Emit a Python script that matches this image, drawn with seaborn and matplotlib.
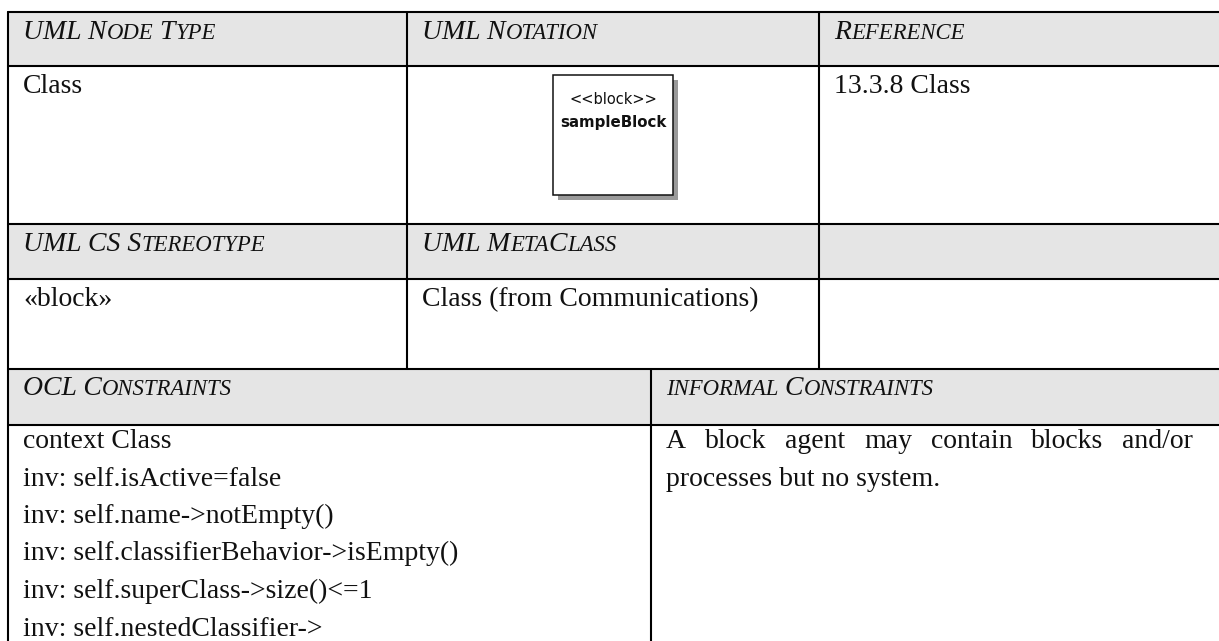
import matplotlib
matplotlib.use("Agg")
import matplotlib.pyplot as plt
import seaborn as sns
from matplotlib.patches import Rectangle
from matplotlib.font_manager import FontProperties

# table content (lowercase letters in headers are drawn as small caps)
header_row1 = ["UML Node Type", "UML Notation", "Reference"]
body_row1 = ["Class", "", "13.3.8 Class"]
header_row2 = ["UML CS Stereotype", "UML MetaClass", ""]
body_row2 = ["«block»", "Class (from Communications)", ""]
header_row3 = ["OCL Constraints", "informal Constraints"]
ocl_lines = [
    "context Class",
    "inv: self.isActive=false",
    "inv: self.name->notEmpty()",
    "inv: self.classifierBehavior->isEmpty()",
    "inv: self.superClass->size()<=1",
    "inv: self.nestedClassifier->",
]
informal_lines = ["A block agent may contain blocks and/or", "processes but no system."]
notation_stereotype = "<<block>>"
notation_name = "sampleBlock"

W, H = 1219, 641
X_LEFT, X_RIGHT = 8, 1219
COLS_TOP = [8, 407, 819]
COLS_BOTTOM = [8, 651]
ROW_LINES = [12, 66, 224, 279, 369, 425]
HEADER_ROWS = [(12, 66), (224, 279), (369, 425)]
PAD = 15
SERIF = "Liberation Serif"
BODY_SIZE = 20
HEAD_SIZE = 20
LINE_STEP = 37.5
INK = "#111111"

sns.set_theme(style="white")
plt.rcParams["font.family"] = [SERIF, "DejaVu Serif"]

fig = plt.figure(figsize=(12.19, 6.41), dpi=100)
ax = fig.add_axes([0, 0, 1, 1])
ax.set_xlim(0, W)
ax.set_ylim(H, 0)
ax.axis("off")
renderer = fig.canvas.get_renderer()


def text_width(s, prop):
    # measure with guard glyphs so leading/trailing spaces count
    w1, _, _ = renderer.get_text_width_height_descent("X" + s + "X", prop, ismath=False)
    w0, _, _ = renderer.get_text_width_height_descent("XX", prop, ismath=False)
    return w1 - w0


def small_caps(x, y, label, size, ratio=0.82):
    runs = []
    for ch in label:
        low = ch.islower()
        if runs and runs[-1][1] == low:
            runs[-1][0] += ch
        else:
            runs.append([ch, low])
    for s, low in runs:
        prop = FontProperties(family=SERIF, style="italic",
                              size=size * ratio if low else size)
        ax.text(x, y, s.upper(), fontproperties=prop, va="baseline", ha="left", color=INK)
        x += text_width(s.upper(), prop)


def justified(x0, x1, y, line, size):
    prop = FontProperties(family=SERIF, size=size)
    words = line.split()
    widths = [text_width(w, prop) for w in words]
    gap = (x1 - x0 - sum(widths)) / (len(words) - 1)
    x = x0
    for w, wd in zip(words, widths):
        ax.text(x, y, w, fontproperties=prop, va="baseline", ha="left", color=INK)
        x += wd + gap


# header shading
for top, bottom in HEADER_ROWS:
    ax.add_patch(Rectangle((X_LEFT, top), X_RIGHT - X_LEFT, bottom - top,
                           facecolor="#e5e5e5", edgecolor="none", zorder=0))

# grid lines
for y in ROW_LINES:
    ax.plot([X_LEFT, X_RIGHT], [y, y], color="black", lw=1.5, zorder=3)
ax.plot([COLS_TOP[0]] * 2, [ROW_LINES[0], H], color="black", lw=1.5, zorder=3)
for x in COLS_TOP[1:]:
    ax.plot([x, x], [ROW_LINES[0], ROW_LINES[4]], color="black", lw=1.5, zorder=3)
ax.plot([COLS_BOTTOM[1]] * 2, [ROW_LINES[4], H], color="black", lw=1.5, zorder=3)

# row 1 and 2
for labels, top in [(header_row1, ROW_LINES[0]), (header_row2, ROW_LINES[2])]:
    for lab, cx in zip(labels, COLS_TOP):
        if lab:
            small_caps(cx + PAD, top + 27, lab, HEAD_SIZE)
for labels, top in [(body_row1, ROW_LINES[1]), (body_row2, ROW_LINES[3])]:
    for lab, cx in zip(labels, COLS_TOP):
        if lab:
            ax.text(cx + PAD, top + 27, lab, fontsize=BODY_SIZE, family=SERIF,
                    va="baseline", ha="left", color=INK)

# notation symbol
bx, by, bs = 553, 75, 120
ax.add_patch(Rectangle((bx + 5, by + 5), bs, bs, facecolor="#9a9a9a", edgecolor="none", zorder=1))
ax.add_patch(Rectangle((bx, by), bs, bs, facecolor="white", edgecolor=INK, lw=1.1, zorder=2))
ax.text(bx + bs / 2, by + 24, notation_stereotype, fontsize=10.5, family="DejaVu Sans",
        ha="center", va="center", color=INK, zorder=4)
ax.text(bx + bs / 2, by + 48, notation_name, fontsize=10.8, family="DejaVu Sans",
        fontweight="bold", ha="center", va="center", color=INK, zorder=4)

# row 3
for lab, cx in zip(header_row3, COLS_BOTTOM):
    small_caps(cx + PAD, ROW_LINES[4] + 26, lab, HEAD_SIZE)
base = ROW_LINES[5] + 23
for i, line in enumerate(ocl_lines):
    ax.text(COLS_BOTTOM[0] + PAD, base + i * LINE_STEP, line, fontsize=BODY_SIZE,
            family=SERIF, va="baseline", ha="left", color=INK)
justified(COLS_BOTTOM[1] + PAD, 1193, base, informal_lines[0], BODY_SIZE)
ax.text(COLS_BOTTOM[1] + PAD, base + LINE_STEP, informal_lines[1], fontsize=BODY_SIZE,
        family=SERIF, va="baseline", ha="left", color=INK)

fig.savefig("out.png", dpi=100, facecolor="white")
